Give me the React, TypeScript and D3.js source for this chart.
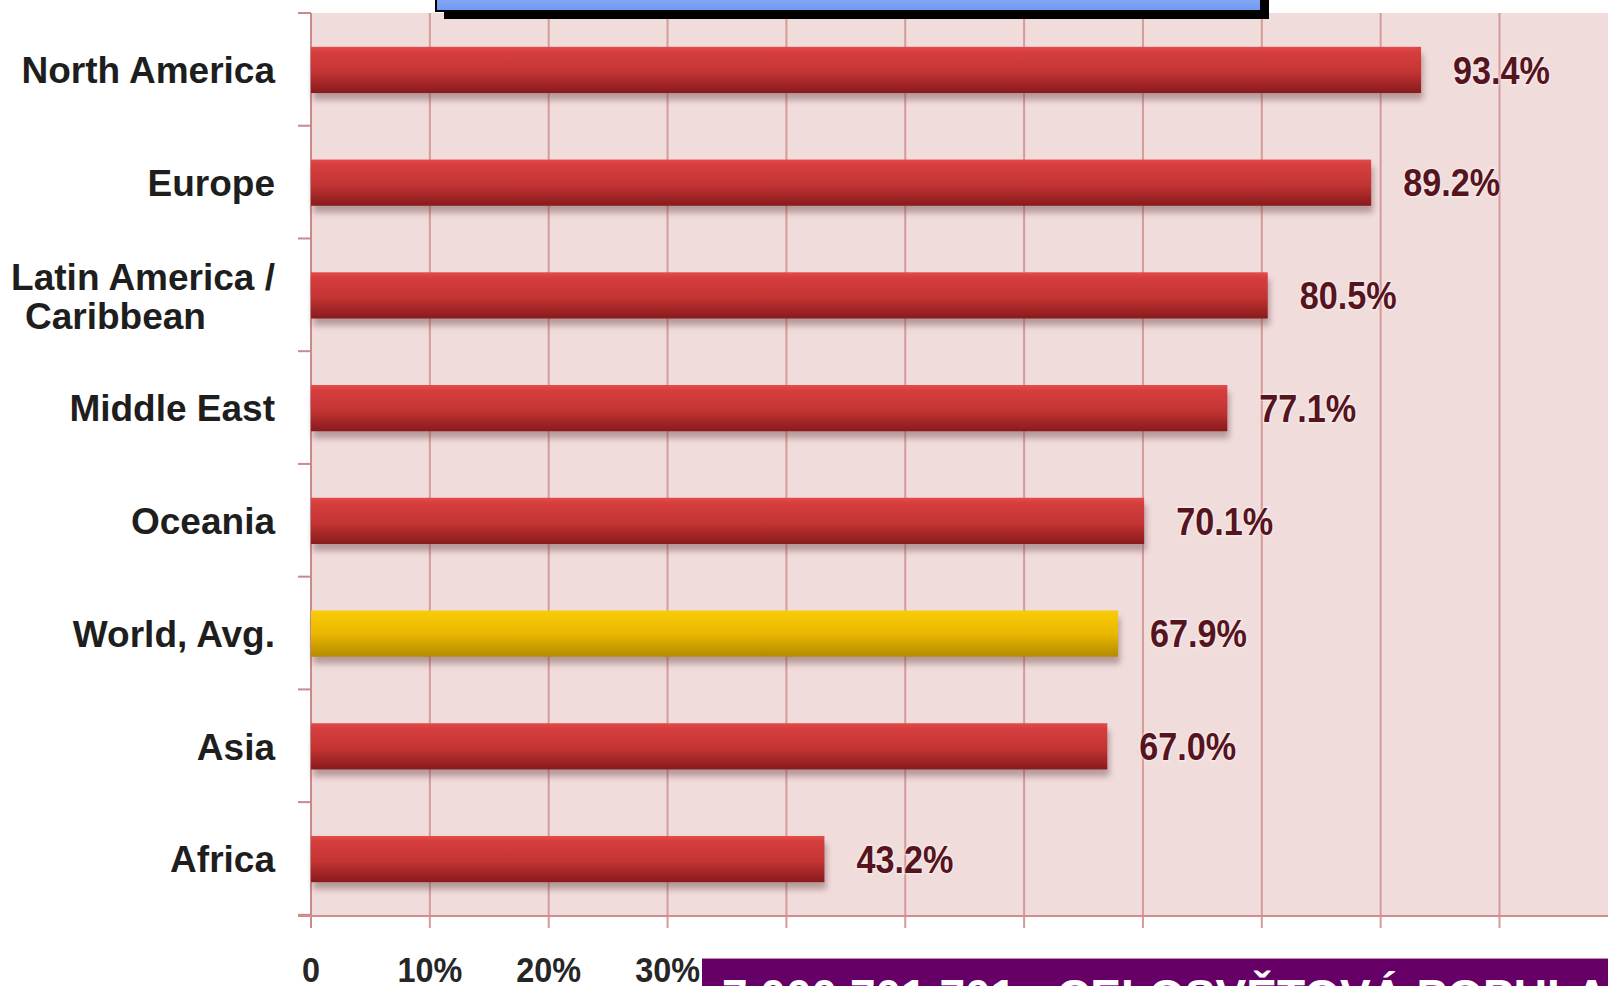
import React from "react";
import * as d3 from "d3";

const categories = [
  "North America",
  "Europe",
  "Latin America / Caribbean",
  "Middle East",
  "Oceania",
  "World, Avg.",
  "Asia",
  "Africa",
];
const values = [93.4, 89.2, 80.5, 77.1, 70.1, 67.9, 67.0, 43.2];
const highlighted = "World, Avg.";
const xTicks = [0, 10, 20, 30, 40, 50, 60, 70, 80, 90, 100, 110, 120];
const labelLines: Record<string, string[]> = {
  "Latin America / Caribbean": ["Latin America /", "Caribbean"],
};
const bannerText = "7 000 701 701 - CELOSVĚTOVÁ POPULACE";
const titleGlyph = "y";

const W = 1608;
const H = 986;
const plotLeft = 311;
const plotTop = 13;
const plotBottom = 916;
const unit = 118.85; // px per 10%

export default function App() {
  const x = d3.scaleLinear().domain([0, 120]).range([plotLeft, plotLeft + unit * 12]);
  const y = d3
    .scaleBand<string>()
    .domain(categories)
    .range([plotTop, plotBottom])
    .paddingInner(0.59)
    .paddingOuter(0.3);
  const step = y.step();
  const bh = y.bandwidth();
  const fmtTick = (v: number) => (v === 0 ? "0" : `${v}%`);
  const fmtVal = (v: number) => `${v.toFixed(1)}%`;
  const boundaries = d3.range(categories.length + 1).map((i) => plotTop + i * step);
  const font = "'Liberation Sans', Arial, Helvetica, sans-serif";

  return (
    <svg
      width={W}
      height={H}
      style={{ position: "fixed", left: 0, top: 0, background: "#fff" }}
      fontFamily={font}
    >
      <defs>
        <linearGradient id="redG" x1="0" y1="0" x2="0" y2="1">
          <stop offset="0" stopColor="#e44c4a" />
          <stop offset="0.12" stopColor="#d63e3e" />
          <stop offset="0.55" stopColor="#c43434" />
          <stop offset="1" stopColor="#881a1c" />
        </linearGradient>
        <linearGradient id="yelG" x1="0" y1="0" x2="0" y2="1">
          <stop offset="0" stopColor="#f8cc08" />
          <stop offset="0.5" stopColor="#eab800" />
          <stop offset="1" stopColor="#b48a00" />
        </linearGradient>
        <linearGradient id="blueG" x1="0" y1="0" x2="0" y2="1">
          <stop offset="0" stopColor="#a6c2fa" />
          <stop offset="1" stopColor="#6e98f2" />
        </linearGradient>
        <filter id="blur" x="-5%" y="-50%" width="110%" height="200%">
          <feGaussianBlur stdDeviation="3" />
        </filter>
      </defs>

      {/* plot background */}
      <rect x={plotLeft} y={plotTop} width={W - plotLeft} height={plotBottom - plotTop} fill="#f1dcdc" />

      {/* vertical gridlines and bottom ticks */}
      {xTicks.map((t) => (
        <line
          key={"g" + t}
          x1={x(t)}
          x2={x(t)}
          y1={plotTop}
          y2={plotBottom + 12}
          stroke={t === 0 ? "#c98a8a" : "#d59a9a"}
          strokeWidth={2}
        />
      ))}
      {/* left ticks */}
      {boundaries.map((b, i) => (
        <line key={"lt" + i} x1={plotLeft - 13} x2={plotLeft} y1={b} y2={b} stroke="#c98a8a" strokeWidth={2} />
      ))}
      {/* bottom axis line */}
      <line x1={plotLeft - 13} x2={W} y1={plotBottom} y2={plotBottom} stroke="#d08e8e" strokeWidth={2} />

      {/* bars */}
      {categories.map((c, i) => {
        const y0 = y(c)!;
        const w = x(values[i]) - x(0);
        return (
          <g key={c}>
            <rect x={x(0) + 2} y={y0 + 7} width={w} height={bh} fill="#6e4a4a" opacity={0.45} filter="url(#blur)" />
            <rect x={x(0)} y={y0} width={w} height={bh} fill={c === highlighted ? "url(#yelG)" : "url(#redG)"} />
          </g>
        );
      })}

      {/* value labels */}
      {categories.map((c, i) => (
        <g key={"v" + c} transform={`translate(${x(values[i]) + 32},${y(c)! + bh / 2}) scale(0.9,1)`}>
          <text
            dy="0.36em"
            fontSize={38}
            fontWeight="bold"
            fill="#55141e"
            stroke="#ffffff"
            strokeOpacity={0.35}
            strokeWidth={3}
            paintOrder="stroke"
          >
            {fmtVal(values[i])}
          </text>
        </g>
      ))}

      {/* category labels */}
      {categories.map((c) => {
        const cy = y(c)! + bh / 2;
        const lines = labelLines[c];
        if (lines) {
          return (
            <g key={"c" + c}>
              <text x={275} y={cy - 19} dy="0.36em" textAnchor="end" fontSize={37} fontWeight="bold" fill="#1e1e1e">
                {lines[0]}
              </text>
              <text x={25} y={cy + 20} dy="0.36em" textAnchor="start" fontSize={37} fontWeight="bold" fill="#1e1e1e">
                {lines[1]}
              </text>
            </g>
          );
        }
        return (
          <text key={"c" + c} x={275} y={cy} dy="0.36em" textAnchor="end" fontSize={37} fontWeight="bold" fill="#1e1e1e">
            {c}
          </text>
        );
      })}

      {/* x tick labels */}
      {xTicks.map((t) => (
        <g key={"xl" + t} transform={`translate(${x(t)},${969}) scale(0.9,1)`}>
          <text dy="0.36em" textAnchor="middle" fontSize={36} fontWeight="bold" fill="#262626">
            {fmtTick(t)}
          </text>
        </g>
      ))}

      {/* top title box (mostly cropped) */}
      <rect x={444} y={-20} width={825} height={39} fill="#000" />
      <rect x={436} y={-20} width={825} height={31} fill="url(#blueG)" stroke="#000" strokeWidth={2} />
      <text x={503} y={-6} fontSize={30} fontWeight="bold" fill="#fff">
        {titleGlyph}
      </text>

      {/* bottom banner */}
      <rect x={702} y={958} width={W - 702 + 4} height={40} fill="#660066" />
      <line x1={702} x2={W} y1={958.5} y2={958.5} stroke="#b98ab9" strokeWidth={1} />
      <text x={722} y={1012} fontSize={46} fontWeight="bold" fill="#fff">
        {bannerText}
      </text>
    </svg>
  );
}
